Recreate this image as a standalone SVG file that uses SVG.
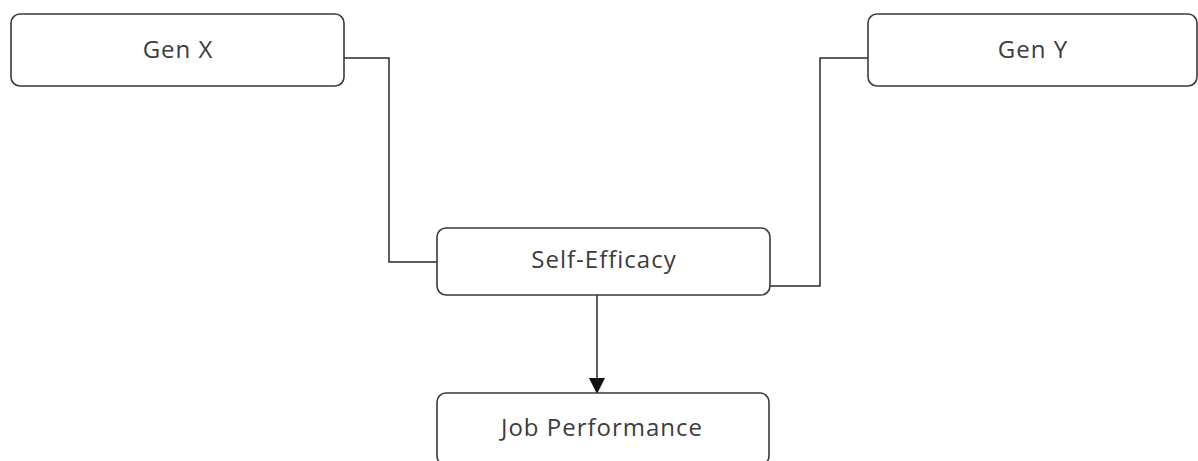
<svg xmlns="http://www.w3.org/2000/svg" width="1198" height="461" viewBox="0 0 1198 461">
<style>
.box{fill:#fff;stroke:#3a3a3a;stroke-width:1.6}
.lbl{font-family:"Open Sans","Liberation Sans",sans-serif;font-size:24px;letter-spacing:1px;fill:#3c3c3c;text-anchor:middle}
.con{fill:none;stroke:#2a2a2a;stroke-width:1.5}
</style>
<defs>
<marker id="arr" markerWidth="16" markerHeight="16" viewBox="0 0 16 16" refX="15" refY="8" orient="auto" markerUnits="userSpaceOnUse">
<path d="M0,0 L16,8 L0,16 Z" fill="#111"/>
</marker>
</defs>
<rect width="1198" height="461" fill="#fff"/>
<g id="connectors">
<path class="con" d="M344,58 H389 V262 H437"/>
<path class="con" d="M868,58 H820 V286 H770"/>
<path class="con" d="M597,295 V393" marker-end="url(#arr)"/>
</g>
<g id="genx"><rect class="box" x="11" y="14" width="333" height="72" rx="9"/><text class="lbl" x="178" y="58">Gen X</text></g>
<g id="geny"><rect class="box" x="868" y="14" width="329" height="72" rx="9"/><text class="lbl" x="1033" y="58">Gen Y</text></g>
<g id="selfeff"><rect class="box" x="437" y="228" width="333" height="67" rx="9"/><text class="lbl" x="604" y="268">Self-Efficacy</text></g>
<g id="jobperf"><rect class="box" x="437" y="393" width="332" height="72" rx="9"/><text class="lbl" x="602" y="436">Job Performance</text></g>
</svg>
